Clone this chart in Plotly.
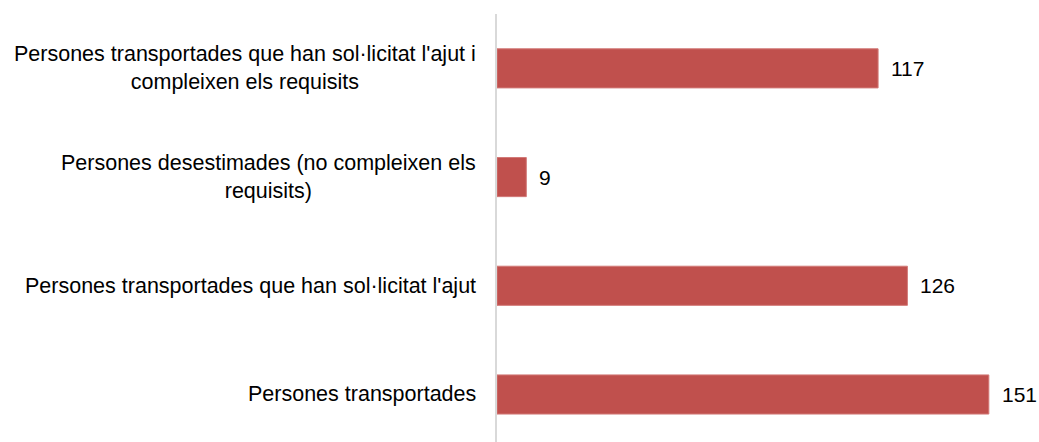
import plotly.graph_objects as go

# Categories listed bottom to top
categories = [
    "Persones transportades",
    "Persones transportades que han sol·licitat l'ajut",
    "Persones desestimades (no compleixen els<br>requisits)",
    "Persones transportades que han sol·licitat l'ajut i<br>compleixen els requisits",
]
values = [151, 126, 9, 117]

BAR_COLOR = "#C0504D"
FONT = "Liberation Sans, Arial, sans-serif"
FONT_SIZE = 21.5

positions = list(range(len(categories)))

fig = go.Figure(
    go.Bar(
        x=values,
        y=positions,
        orientation="h",
        marker=dict(color=BAR_COLOR, line=dict(color="#D27A78", width=1)),
        hoverinfo="skip",
    )
)

annotations = []
# Category labels, centred lines, right edge next to the axis
for pos, label in zip(positions, categories):
    annotations.append(
        dict(
            x=0, xref="paper", y=pos, yref="y",
            text=label, showarrow=False,
            xanchor="right", yanchor="middle", align="center",
            xshift=-19,
            font=dict(family=FONT, size=FONT_SIZE, color="#000000"),
        )
    )
# Value labels at the end of each bar
for pos, val in zip(positions, values):
    annotations.append(
        dict(
            x=val, xref="x", y=pos, yref="y",
            text=str(val), showarrow=False,
            xanchor="left", yanchor="middle",
            xshift=11,
            font=dict(family=FONT, size=21, color="#000000"),
        )
    )

fig.update_layout(
    width=1039,
    height=442,
    margin=dict(l=497, r=0, t=14, b=0),
    paper_bgcolor="white",
    plot_bgcolor="white",
    bargap=0.64,
    showlegend=False,
    annotations=annotations,
    xaxis=dict(
        range=[0, 166.4],
        showgrid=False,
        zeroline=False,
        showticklabels=False,
        ticks="",
        showline=False,
    ),
    yaxis=dict(
        range=[-0.437, 3.5],
        showgrid=False,
        zeroline=False,
        showticklabels=False,
        ticks="",
        showline=True,
        linecolor="#D9D9D9",
        linewidth=2,
    ),
)

fig.write_html("out.html")
